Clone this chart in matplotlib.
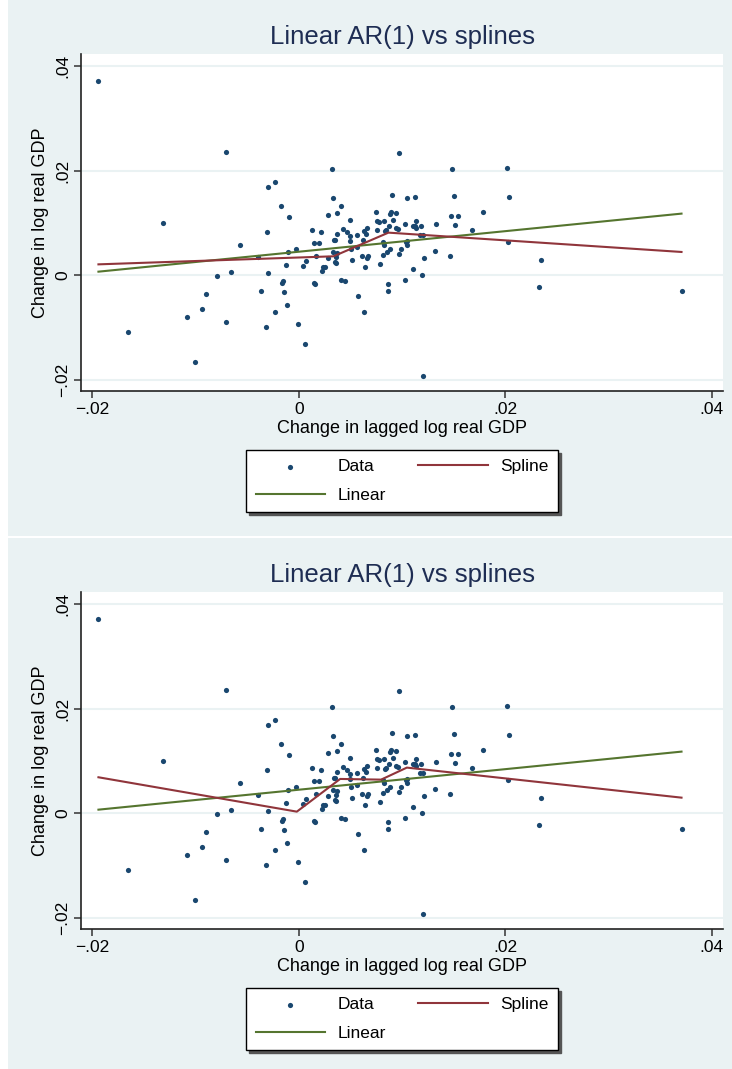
import matplotlib
matplotlib.use("Agg")
import matplotlib.pyplot as plt
from matplotlib.patches import Rectangle

plt.rcParams['font.family'] = ['Liberation Sans', 'DejaVu Sans']

# ---- data ----
data_x = [-0.01941, -0.00707, -0.01311, -0.01654, -0.01001, -0.01082, -0.00937, -0.00901,
          -0.00795, -0.00704, -0.00652, -0.00565, -0.00397, -0.00365, -0.00320, -0.00297,
          -0.00310, -0.00300, -0.00226, -0.00226, -0.00168, -0.00158, -0.00149, -0.00139,
          -0.00123, -0.00110, -0.00097, -0.00100, -0.00026, -0.00006,
          0.00039, 0.00068, 0.00061, 0.00126, 0.00145, 0.00152, 0.00158, 0.00165, 0.00200,
          0.00216, 0.00226, 0.00239, 0.00255, 0.00281, 0.00281, 0.00320, 0.00333, 0.00339,
          0.00352, 0.00329, 0.00349, 0.00362, 0.00362, 0.00375, 0.00375, 0.00375, 0.00407,
          0.00407, 0.00443, 0.00433, 0.00465, 0.00494, 0.00494, 0.00501, 0.00507, 0.00520,
          0.00565, 0.00562, 0.00575, 0.00614, 0.00623, 0.00636, 0.00643, 0.00636, 0.00652,
          0.00662, 0.00665, 0.00672, 0.00749, 0.00759, 0.00778, 0.00762, 0.00788, 0.00827,
          0.00820, 0.00827, 0.00820, 0.00840, 0.00846, 0.00859, 0.00866, 0.00866, 0.00879,
          0.00885, 0.00891, 0.00872, 0.00901, 0.00911, 0.00943, 0.00946, 0.00963, 0.00969,
          0.00975, 0.00992, 0.01030, 0.01030, 0.01047, 0.01043, 0.01053, 0.01053, 0.01105,
          0.01111, 0.01127, 0.01130, 0.01137, 0.01137, 0.01182, 0.01176, 0.01202, 0.01195,
          0.01208, 0.01214, 0.01315, 0.01328, 0.01470, 0.01466, 0.01483, 0.01499, 0.01518,
          0.01544, 0.01683, 0.01783, 0.02022, 0.02025, 0.02041, 0.02326, 0.02348, 0.03708]
data_y = [0.03710, 0.02350, 0.00990, -0.01086, -0.01660, -0.00798, -0.00658, -0.00370,
          -0.00026, -0.00900, 0.00064, 0.00575, 0.00345, -0.00300, -0.01000, 0.00038,
          0.00824, 0.01686, 0.01788, -0.00709, 0.01328, -0.00147, -0.00121, -0.00326,
          0.00198, -0.00568, 0.01105, 0.00440, 0.00492, -0.00939,
          0.00166, 0.00262, -0.01315, 0.00868, 0.00619, -0.00147, -0.00166, 0.00364, 0.00619,
          0.00824, 0.00070, 0.00160, 0.00160, 0.01143, 0.00332, 0.02024, 0.01469, 0.00664,
          0.00664, 0.00447, 0.00243, 0.00230, 0.00345, 0.01194, 0.00792, 0.00415, 0.01315,
          -0.00096, -0.00109, 0.00881, 0.00824, 0.00754, 0.00651, 0.01060, 0.00498, 0.00281,
          0.00760, 0.00530, -0.00396, 0.00364, 0.00664, -0.00709, 0.00147, 0.00843, 0.00785,
          0.00894, 0.00326, 0.00370, 0.01213, 0.01034, 0.01022, 0.00862, 0.00217, 0.01041,
          0.00639, 0.00568, 0.00377, 0.00843, 0.00862, 0.00434, -0.00166, -0.00307, 0.00504,
          0.01175, 0.01201, 0.00945, 0.01526, 0.01047, 0.01181, 0.00894, 0.00881, 0.00409,
          0.02331, 0.00498, 0.00971, -0.00096, 0.00568, 0.00639, 0.00658, 0.01475, 0.00121,
          0.00945, 0.00945, 0.01501, 0.01034, 0.00907, 0.00945, 0.00773, 0.00760, -0.00006,
          -0.01941, 0.00319, 0.00466, 0.00977, 0.01130, 0.00370, 0.02024, 0.01520, 0.00964,
          0.01137, 0.00868, 0.01213, 0.02043, 0.00632, 0.01488, -0.00230, 0.00281, -0.00300]

linear_x = [-0.01941, 0.03708]
linear_y = [0.00064, 0.01175]

spline1_x = [-0.01941, 0.00336, 0.00869, 0.03708]
spline1_y = [0.00204, 0.00358, 0.00811, 0.00441]

spline2_x = [-0.01941, -0.00019, 0.00401, 0.00798, 0.01047, 0.03708]
spline2_y = [0.00684, 0.00026, 0.00652, 0.00639, 0.00869, 0.00294]

yticks = [-0.02, 0.0, 0.02, 0.04]
ytick_labels = ['\u2212.02', '0', '.02', '.04']
xticks = [-0.02, 0.0, 0.02, 0.04]
xtick_labels = ['\u2212.02', '0', '.02', '.04']

title = 'Linear AR(1) vs splines'
xlabel = 'Change in lagged log real GDP'
ylabel = 'Change in log real GDP'

# ---- styles ----
W, H = 732, 1069
BG = '#EAF2F3'
NAVY = '#1A476F'
MAROON = '#90353B'
GREEN = '#55752F'
TITLE_C = '#1E2D53'

fig = plt.figure(figsize=(W / 100, H / 100), dpi=100)
fig.patch.set_facecolor('white')


def fx(px):
    return px / W


def fy(py):
    return 1 - py / H


def panel(top_px, spl_x, spl_y):
    # background of the graph region
    fig.add_artist(Rectangle((fx(8), fy(top_px + 536)), fx(724), 536 / H,
                             transform=fig.transFigure, facecolor=BG,
                             edgecolor='none', zorder=-10))
    ax = fig.add_axes([fx(81), fy(top_px + 391), fx(642), 337 / H])
    ax.set_facecolor('white')
    ax.set_xlim(-0.0211, 0.0411)
    ax.set_ylim(-0.0222, 0.0423)
    for yv in yticks:
        ax.axhline(yv, color=BG, lw=1.5, zorder=0)
    ax.scatter(data_x, data_y, s=14, color=NAVY, zorder=3, label='Data',
               linewidths=0)
    ax.plot(linear_x, linear_y, color=GREEN, lw=1.5, zorder=4, label='Linear')
    ax.plot(spl_x, spl_y, color=MAROON, lw=1.5, zorder=4, label='Spline')
    for s in ['top', 'right']:
        ax.spines[s].set_visible(False)
    for s in ['left', 'bottom']:
        ax.spines[s].set_color('#222222')
        ax.spines[s].set_linewidth(1.2)
    ax.set_xticks(xticks)
    ax.set_xticklabels(xtick_labels, fontsize=12.5)
    ax.set_yticks(yticks)
    ax.set_yticklabels(ytick_labels, fontsize=12.5, rotation=90, va='center')
    ax.tick_params(axis='both', direction='out', length=5, width=1.1,
                   color='#333333', pad=3)
    ax.set_xlabel(xlabel, fontsize=13, labelpad=2)
    ax.set_ylabel(ylabel, fontsize=13, labelpad=4)
    fig.text(fx(402), fy(top_px + 37), title, ha='center',
             va='center', fontsize=18.5, color=TITLE_C)
    h, lab = ax.get_legend_handles_labels()
    order = [lab.index('Data'), lab.index('Linear'), lab.index('Spline')]
    leg = fig.legend([h[i] for i in order], [lab[i] for i in order],
                     loc='center', ncol=2,
                     bbox_to_anchor=(fx(402), fy(top_px + 481)),
                     fontsize=12.5, frameon=True, fancybox=False,
                     edgecolor='black', facecolor='white', framealpha=1,
                     handlelength=4.0, columnspacing=1.9, handletextpad=0.7,
                     borderpad=0.55, labelspacing=0.75, markerscale=1.0,
                     shadow={'color': '#555555', 'alpha': 1})
    leg.get_frame().set_linewidth(1.0)
    return ax


panel(0, spline1_x, spline1_y)
panel(538, spline2_x, spline2_y)

fig.savefig('out.png', dpi=100, facecolor=fig.get_facecolor())
